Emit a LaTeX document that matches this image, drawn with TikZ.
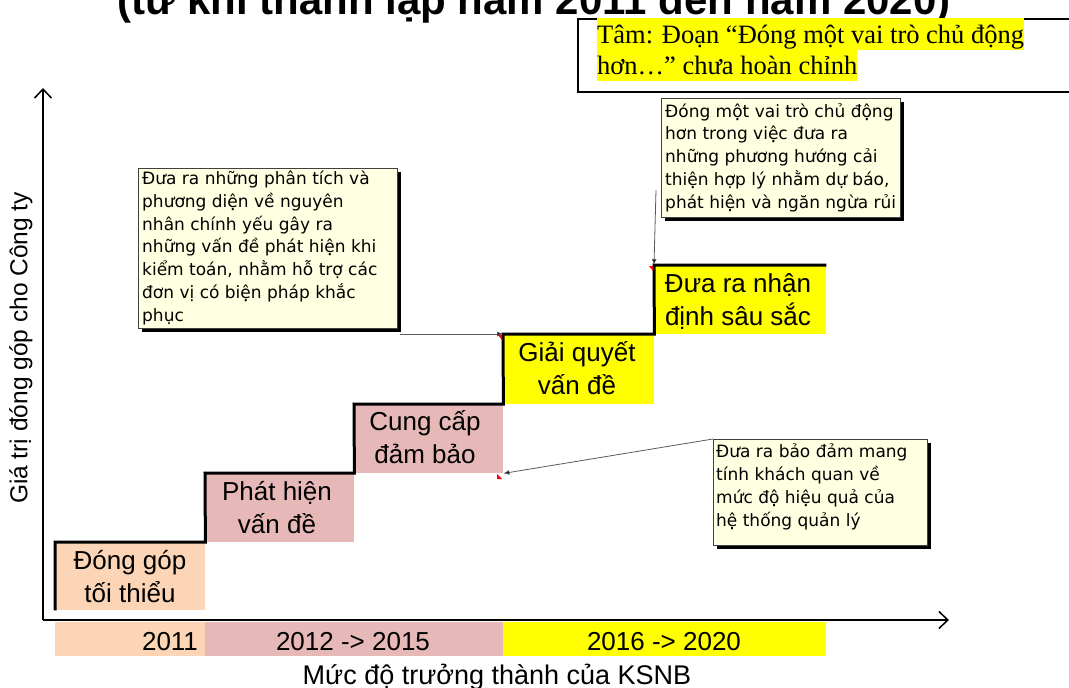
\documentclass[tikz,border=0pt]{standalone}
\usepackage{fontspec}
\setmainfont{Liberation Sans}
\newfontfamily\calloutfont{DejaVu Sans}
\newfontfamily\cmtfont{Liberation Serif}
\usetikzlibrary{arrows.meta}
\definecolor{peach}{HTML}{FBD5B5}
\definecolor{rosy}{HTML}{E6B9B8}
\definecolor{hiyellow}{HTML}{FFFF00}
\definecolor{noteyellow}{HTML}{FFFFE1}
\tikzset{
  stepbox/.style={draw=none, inner sep=0pt, anchor=north west},
  steplabel/.style={anchor=base, align=center, inner sep=0pt, font=\fontsize{26}{33}\selectfont},
  stair/.style={line width=3pt, line join=miter},
  axis/.style={line width=1.8pt, -{Straight Barb[length=9pt,width=17pt,line width=1.5pt]}},
  band/.style={draw=none, inner sep=0pt, anchor=north west, minimum height=34pt},
  bandtext/.style={anchor=base, inner sep=0pt, font=\fontsize{26}{30}\selectfont},
  callout/.style={draw=black!75, line width=0.8pt, fill=noteyellow, inner sep=0pt, anchor=north west,
    preaction={fill=black, transform canvas={shift={(4pt,-4pt)}}}},
  callouttext/.style={anchor=base west, align=left, inner sep=0pt, font=\calloutfont\fontsize{17}{22.7}\selectfont},
  conn/.style={draw=black!65, line width=0.8pt, -{Latex[length=6pt,width=5pt,fill=black]}},
  hl/.style={fill=hiyellow, inner sep=0pt, anchor=base west, text height=25pt, text depth=6.5pt, font=\cmtfont\fontsize{26.5}{31}\selectfont},
  marker/.style={fill=red}
}
\begin{document}
\begin{tikzpicture}[x=1pt,y=-1pt]
\useasboundingbox (0,0) rectangle (1069,688);
\clip (0,0) rectangle (1069,688);
% title (cut off at top)
\node[anchor=base west, inner sep=0pt, font=\fontsize{42}{42}\selectfont\bfseries] (title) at (117,15) {(từ khi thành lập năm 2011 đến năm 2020)};

% steps
\node[stepbox, fill=peach, minimum width=150pt, minimum height=68pt] (s1) at (55,542) {};
\node[stepbox, fill=rosy, minimum width=149pt, minimum height=69pt] (s2) at (205,473) {};
\node[stepbox, fill=rosy, minimum width=149pt, minimum height=69pt] (s3) at (354,404) {};
\node[stepbox, fill=hiyellow, minimum width=151pt, minimum height=70pt] (s4) at (503,334) {};
\node[stepbox, fill=hiyellow, minimum width=172pt, minimum height=69pt] (s5) at (654,265) {};
\draw[stair] (s1.south west) -- (s1.north west) -- (s1.north east) -- (s2.north west) -- (s2.north east)
  -- (s3.north west) -- (s3.north east) -- (s4.north west) -- (s4.north east) -- (s5.north west) -- (s5.north east);
\node[steplabel] (l1) at (130,602) {Đóng góp\\tối thiểu};
\node[steplabel] (l2) at (277,533) {Phát hiện\\vấn đề};
\node[steplabel] (l3) at (425,463) {Cung cấp\\đảm bảo};
\node[steplabel] (l4) at (577,394) {Giải quyết\\vấn đề};
\node[steplabel] (l5) at (738,325) {Đưa ra nhận\\định sâu sắc};

% axes
\coordinate (O) at (43,620);
\coordinate (ytip) at (43,88);
\coordinate (xtip) at (949,620);
\draw[axis] (O) -- (ytip);
\draw[axis] (O) -- (xtip);
\node[rotate=90, inner sep=0pt, font=\fontsize{24.5}{28}\selectfont] (ylab) at (21,348) {Giá trị đóng góp cho Công ty};

% bands
\node[band, fill=peach, minimum width=150pt] (b1) at (55,622) {};
\node[band, fill=rosy, minimum width=298pt] (b2) at (205,622) {};
\node[band, fill=hiyellow, minimum width=323pt] (b3) at (503,622) {};
\node[bandtext] (t1) at (170,650) {2011};
\node[bandtext] (t2) at (353,650) {2012 -> 2015};
\node[bandtext] (t3) at (664,650) {2016 -> 2020};
\node[anchor=base, inner sep=0pt, font=\fontsize{27}{30}\selectfont] (xlab) at (497,684) {Mức độ trưởng thành của KSNB};

% callouts
\node[callout, minimum width=259pt, minimum height=160pt] (c1) at (138,168) {};
\node[callouttext] (c1t) at (142,321) {Đưa ra những phân tích và\\phương diện về nguyên\\nhân chính yếu gây ra\\những vấn đề phát hiện khi\\kiểm toán, nhằm hỗ trợ các\\đơn vị có biện pháp khắc\\phục};
\node[callout, minimum width=239pt, minimum height=119pt] (c2) at (661,98) {};
\node[callouttext] (c2t) at (665,208) {Đóng một vai trò chủ động\\hơn trong việc đưa ra\\những phương hướng cải\\thiện hợp lý nhằm dự báo,\\phát hiện và ngăn ngừa rủi};
\node[callout, minimum width=214pt, minimum height=106pt] (c3) at (713,439) {};
\node[callouttext] (c3t) at (716,526) {Đưa ra bảo đảm mang\\tính khách quan về\\mức độ hiệu quả của\\hệ thống quản lý};

% connectors
\coordinate (c1tail) at (400,334);
\coordinate (c2tail) at (656,190);
\draw[conn] (c1tail) -- (s4.north west);
\draw[conn] (c2tail) -- (s5.north west);
\draw[conn] (c3.north west) -- (s3.south east);
\fill[marker] (498,335) -- (502,335) -- (502,340) -- cycle;
\fill[marker] (649,266) -- (653,266) -- (653,271) -- cycle;
\fill[marker] (497,474) -- (502,479) -- (497,479) -- cycle;

% comment box
\node[draw=black, line width=2pt, fill=white, inner sep=0pt, anchor=north west, minimum width=520pt, minimum height=73pt] (cmt) at (577,18) {};
\node[hl] (h1) at (597,43) {Tâm: Đoạn “Đóng một vai trò chủ động};
\node[hl] (h2) at (597,74) {hơn…” chưa hoàn chỉnh};
\end{tikzpicture}
\end{document}
